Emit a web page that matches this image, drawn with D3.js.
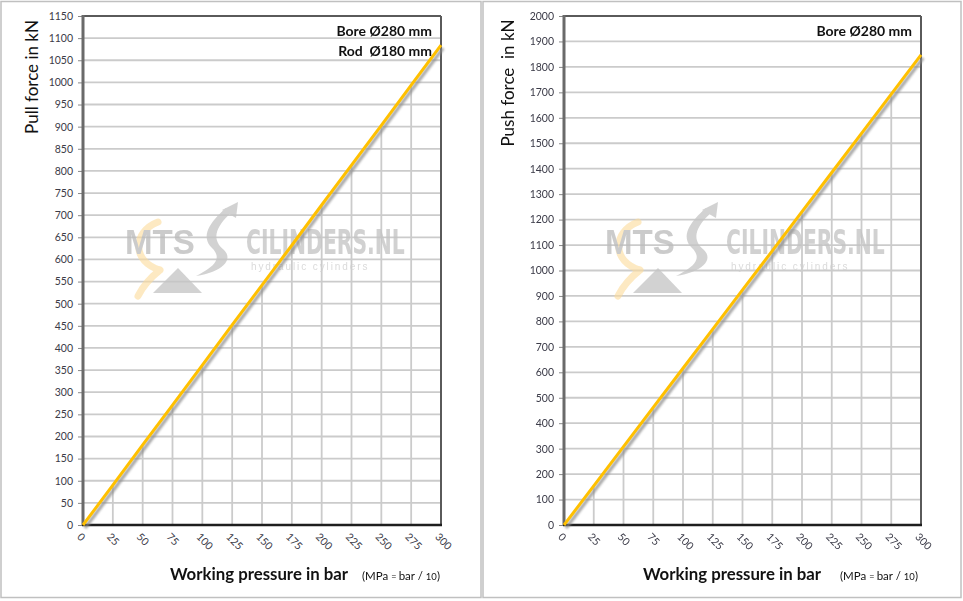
<!DOCTYPE html>
<html><head><meta charset="utf-8">
<script src="https://cdn.jsdelivr.net/npm/d3@7"></script>
<style>
html,body{margin:0;padding:0;background:#fff;}
svg{display:block;font-family:Lato,"Open Sans",sans-serif;}
</style></head>
<body>
<svg id="c" width="963" height="601"></svg>
<script>
// ---- data ----
const pressure = [0, 25, 50, 75, 100, 125, 150, 175, 200, 225, 250, 275, 300];
const pullForce = [0, 90, 181, 271, 361, 452, 542, 632, 723, 813, 903, 994, 1084];
const pushForce = [0, 154, 308, 462, 616, 770, 924, 1077, 1231, 1385, 1539, 1693, 1847];
const xTickLabels = [0, 25, 50, 75, 100, 125, 150, 175, 200, 225, 250, 275, 300];
const pullTicks = [0,50,100,150,200,250,300,350,400,450,500,550,600,650,700,750,800,850,900,950,1000,1050,1100,1150];
const pushTicks = [0,100,200,300,400,500,600,700,800,900,1000,1100,1200,1300,1400,1500,1600,1700,1800,1900,2000];
const pullNotes = ["Bore \u00D8280 mm", "Rod  \u00D8180 mm"];
const pushNotes = ["Bore \u00D8280 mm"];
const yTitles = ["Pull force in kN", "Push force  in kN"];
const xTitle = "Working pressure in bar";

const svg = d3.select("#c");
const defs = svg.append("defs");
defs.append("filter").attr("id","blur").attr("x","-10%").attr("y","-10%").attr("width","120%").attr("height","120%")
  .append("feGaussianBlur").attr("stdDeviation",1.3);

// outer frames
svg.append("rect").attr("x",1).attr("y",1.5).attr("width",480).attr("height",596).attr("fill","none").attr("stroke","#c0c0c0").attr("stroke-width",1.5);
svg.append("rect").attr("x",483).attr("y",1.5).attr("width",478).attr("height",596).attr("fill","none").attr("stroke","#c0c0c0").attr("stroke-width",1.5);

const panels = [
  {x0:83, x1:441, y0:16, y1:525, values:pullForce, ticks:pullTicks, max:1150, notes:pullNotes, title:yTitles[0], titleX:32, titleY:77, xTitleX:170, mpaX:362, logoDx:0},
  {x0:564, x1:921, y0:16, y1:525, values:pushForce, ticks:pushTicks, max:2000, notes:pushNotes, title:yTitles[1], titleX:508, titleY:83, xTitleX:643, mpaX:840, logoDx:480}
];

function drawLogo(g, dx){
  const L = g.append("g").attr("transform",`translate(${dx},0)`).attr("opacity",0.78);
  // faint orange arc
  L.append("path").attr("d","M158,222 C132,232 132,262 160,270 M160,270 C150,278 142,288 138,296")
    .attr("fill","none").attr("stroke","#fbdc9c").attr("stroke-width",7).attr("stroke-linecap","round").attr("opacity",0.8);
  // gray triangle
  L.append("path").attr("d","M178,268 L153,293 L202,293 Z").attr("fill","#c6c6c6");
  // swoosh arrow
  L.append("path").attr("d","M232,212 C214,228 212,240 224,250 C234,260 222,272 196,276 C216,266 222,258 212,248 C200,236 210,222 226,208 Z")
    .attr("fill","#c6c6c6");
  L.append("path").attr("d","M238,202 L222,210 L236,218 Z").attr("fill","#c6c6c6");
  L.append("text").attr("transform","translate(125,254) scale(0.92,1)").attr("font-family","'Liberation Sans',Arial,sans-serif").attr("font-weight","bold")
    .attr("font-size",36).attr("fill","#bdbdbd").text("MTS");
  L.append("text").attr("transform","translate(246,254) scale(0.665,1)").attr("font-family","'DejaVu Sans Condensed','DejaVu Sans',sans-serif").attr("font-weight","bold")
    .attr("font-size",34).attr("fill","#c4c4c4").text("CILINDERS.NL");
  L.append("text").attr("x",251).attr("y",270).attr("font-family","'Liberation Sans',Arial,sans-serif")
    .attr("font-size",10).attr("letter-spacing",1.9).attr("fill","#d0d0d0").text("hydraulic  cylinders");
}

panels.forEach(p => {
  const x = d3.scaleLinear().domain([0,300]).range([p.x0,p.x1]);
  const y = d3.scaleLinear().domain([0,p.max]).range([p.y1,p.y0]);
  const g = svg.append("g");

  // horizontal gridlines
  g.append("g").selectAll("line").data(p.ticks).join("line")
    .attr("x1",p.x0).attr("x2",p.x1).attr("y1",d=>y(d)).attr("y2",d=>y(d))
    .attr("stroke","#cbcbcb").attr("stroke-width",1.8);
  // drop lines
  g.append("g").selectAll("line").data(pressure.map((d,i)=>[d,p.values[i]]).filter(d=>d[0]>0))
    .join("line").attr("x1",d=>x(d[0])).attr("x2",d=>x(d[0])).attr("y1",d=>y(d[1])).attr("y2",p.y1)
    .attr("stroke","#cbcbcb").attr("stroke-width",1.8);

  drawLogo(g, p.logoDx);

  // y axis ticks
  const ya = d3.axisLeft(y).tickValues(p.ticks).tickFormat(d3.format("d")).tickSize(5).tickPadding(5);
  const yg = g.append("g").attr("transform",`translate(${p.x0},0)`).call(ya);
  yg.select(".domain").remove();
  yg.selectAll(".tick line").attr("stroke","#888");
  yg.selectAll(".tick text").attr("fill","#3b3b48").attr("font-size",10.5).attr("font-family","Lato,sans-serif");

  // x axis labels rotated
  const xg = g.append("g");
  xg.selectAll("text").data(xTickLabels).join("text")
    .attr("transform",d=>`translate(${x(d)-4},${p.y1+10}) rotate(45)`)
    .attr("font-size",10.5).attr("fill","#3b3b48").attr("dy","0.35em").text(d=>d);

  // plot border
  g.append("line").attr("x1",p.x0).attr("x2",p.x1).attr("y1",p.y0).attr("y2",p.y0).attr("stroke","#5a5a5a").attr("stroke-width",2);
  g.append("line").attr("x1",p.x1).attr("x2",p.x1).attr("y1",p.y0).attr("y2",p.y1).attr("stroke","#5a5a5a").attr("stroke-width",2);
  g.append("line").attr("x1",p.x0).attr("x2",p.x0).attr("y1",p.y0-1).attr("y2",p.y1).attr("stroke","#6a6a6a").attr("stroke-width",3);
  g.append("line").attr("x1",p.x0-1).attr("x2",p.x1+1).attr("y1",p.y1).attr("y2",p.y1).attr("stroke","#1e1e1e").attr("stroke-width",2.5);

  // data line with shadow
  const line = d3.line().x((d,i)=>x(pressure[i])).y(d=>y(d));
  g.append("path").datum(p.values).attr("d",line).attr("transform","translate(2,3)")
    .attr("fill","none").attr("stroke","#8c8c8c").attr("stroke-width",3.5).attr("opacity",0.75).attr("filter","url(#blur)");
  g.append("path").datum(p.values).attr("d",line)
    .attr("fill","none").attr("stroke","#ffc000").attr("stroke-width",3);

  // notes
  p.notes.forEach((t,i)=>{
    g.append("text").attr("x",p.x1-9).attr("y",p.y0+20+i*19.5).attr("text-anchor","end")
      .attr("font-weight","bold").attr("font-size",14).attr("fill","#111")
      .style("white-space","pre").text(t);
  });

  // y title
  g.append("text").attr("transform",`translate(${p.titleX},${p.titleY}) rotate(-90)`).attr("text-anchor","middle")
    .attr("font-size",17).attr("fill","#111").attr("dy","0.35em").style("white-space","pre").text(p.title);
  // x title
  g.append("text").attr("x",p.xTitleX).attr("y",580).attr("font-weight","bold").attr("font-size",16.8).attr("fill","#111").text(xTitle);
  const m = g.append("text").attr("x",p.mpaX).attr("y",580).attr("font-size",11.5).attr("fill","#111");
  m.append("tspan").text("(MPa ");
  m.append("tspan").attr("font-size",9).text("= ");
  m.append("tspan").text("bar / ");
  m.append("tspan").attr("font-size",9.5).text("10");
  m.append("tspan").text(")");
});
</script>
</body></html>
